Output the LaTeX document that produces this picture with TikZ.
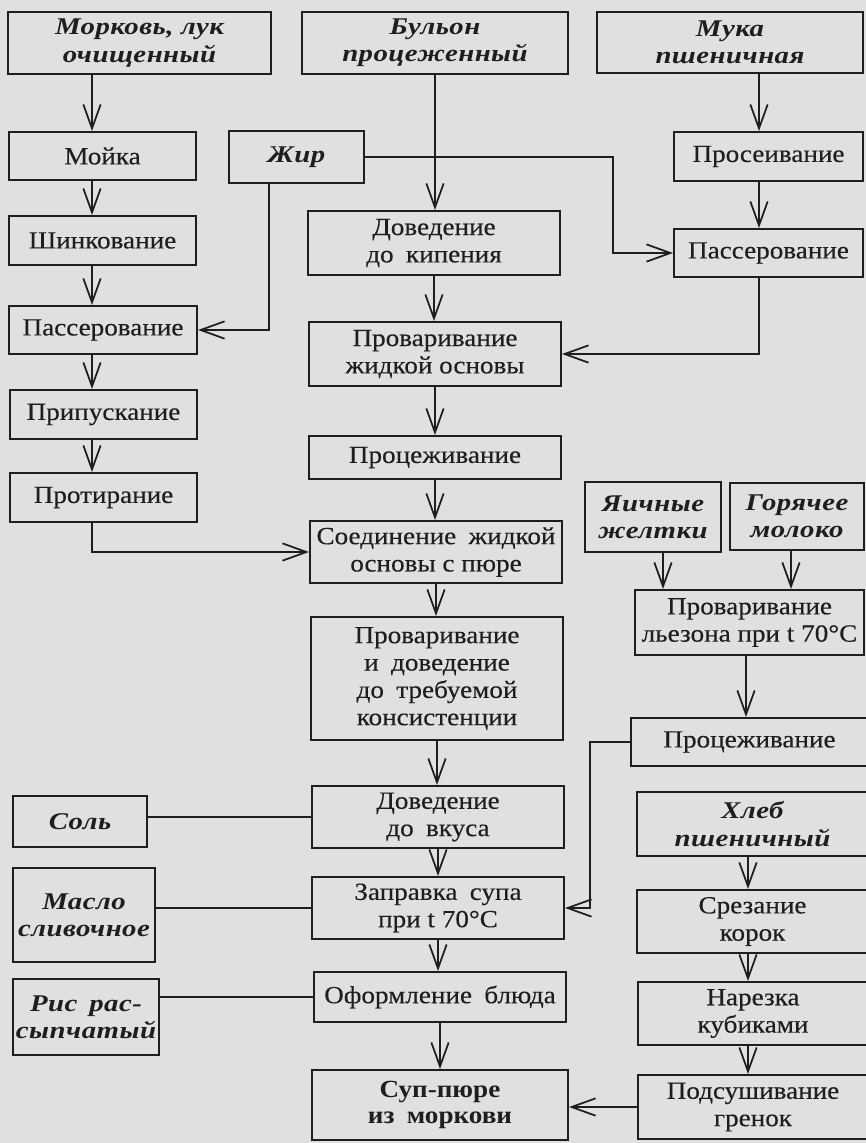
\documentclass[tikz,border=0pt]{standalone}
\usepackage{fontspec}
\setmainfont{Liberation Serif}[FakeStretch=1.1, UprightFeatures={FakeBold=0.3}]
\newfontfamily\ingr{Liberation Serif}[FakeStretch=1.2, LetterSpace=2]
\usetikzlibrary{arrows.meta}
\definecolor{paper}{RGB}{224,224,224}
\definecolor{ink}{RGB}{30,30,30}
\newcommand\ws{\hspace{0.5em}}
% \bx{style}{x1}{y1}{x2}{y2}{name}{text}
\newcommand\bx[7]{\node[#1, minimum width=#4*0.75pt-#2*0.75pt, minimum height=#5*0.75pt-#3*0.75pt]
  (#6) at ({(#2+#4)/2},{(#3+#5)/2}) {#7};}
\begin{document}
\begin{tikzpicture}[x=0.75pt,y=-0.75pt,
  box/.style={draw=ink, line width=1.5pt, inner sep=0pt, align=center, text=ink,
    font=\fontsize{18.5}{20.5}\selectfont},
  ing/.style={box, font=\ingr\bfseries\itshape\fontsize{18}{20.5}\selectfont},
  fin/.style={box, font=\bfseries\fontsize{18.5}{19.5}\selectfont},
  arr/.style={draw=ink, line width=1.5pt, -{Straight Barb[length=18pt,width=13pt,line width=1.3pt]}},
  ln/.style={draw=ink, line width=1.5pt}]
\fill[paper] (0,0) rectangle (866,1143);
\useasboundingbox (0,0) rectangle (866,1143);

% left column
\bx{ing}{8}{12}{271}{74}{mork}{Морковь, лук\\очищенный}
\bx{box}{9}{132}{196}{180}{moyka}{Мойка}
\bx{ing}{229}{131}{364}{183}{zhir}{Жир}
\bx{box}{9}{216}{196}{265}{shink}{Шинкование}
\bx{box}{9}{306}{197}{354}{passL}{Пассерование}
\bx{box}{10}{390}{197}{439}{prip}{Припускание}
\bx{box}{10}{473}{197}{522}{prot}{Протирание}
\bx{ing}{13}{796}{147}{847}{sol}{Соль}
\bx{ing}{13}{868}{155}{962}{maslo}{Масло\\сливочное}
\bx{ing}{13}{979}{159}{1055}{ris}{Рис\ws рас-\\сыпчатый}

% middle column
\bx{ing}{302}{12}{568}{74}{bulon}{Бульон\\процеженный}
\bx{box}{308}{211}{560}{275}{dovKip}{Доведение\\до\ws кипения}
\bx{box}{309}{322}{561}{386}{provZh}{Проваривание\\жидкой основы}
\bx{box}{309}{436}{561}{479}{procM}{Процеживание}
\bx{box}{310}{521}{562}{583}{soed}{Соединение\ws жидкой\\основы с пюре}
\bx{box}{311}{617}{563}{740}{provDov}{Проваривание\\и\ws доведение\\до\ws требуемой\\консистенции}
\bx{box}{312}{786}{564}{848}{dovVk}{Доведение\\до\ws вкуса}
\bx{box}{312}{877}{564}{939}{zapr}{Заправка\ws супа\\при t 70°C}
\bx{box}{314}{972}{566}{1022}{oform}{Оформление\ws блюда}
\bx{fin}{312}{1070}{568}{1140}{sup}{Суп-пюре\\из\ws моркови}

% right column
\bx{ing}{597}{12}{863}{73}{muka}{Мука\\пшеничная}
\bx{box}{674}{132}{863}{181}{pros}{Просеивание}
\bx{box}{674}{229}{863}{277}{passR}{Пассерование}
\bx{ing}{585}{482}{721}{552}{yaich}{Яичные\\желтки}
\bx{ing}{730}{483}{864}{550}{gor}{Горячее\\молоко}
\bx{box}{635}{590}{864}{655}{lez}{Проваривание\\льезона при t 70°C}
\bx{box}{631}{718}{868}{766}{procR}{Процеживание}
\bx{ing}{637}{792}{868}{856}{hleb}{Хлеб\\пшеничный}
\bx{box}{637}{890}{868}{953}{srez}{Срезание\\корок}
\bx{box}{638}{982}{868}{1045}{narez}{Нарезка\\кубиками}
\bx{box}{638}{1075}{868}{1139}{podsush}{Подсушивание\\гренок}

% column coordinates
\coordinate (cL) at (92,0);
\coordinate (cR) at (759,0);
\coordinate (zx) at (269,0);
\coordinate (jx) at (613,0);
\coordinate (px) at (590,0);
\coordinate (yx) at (663,0);
\coordinate (gx) at (791,0);
\coordinate (lx) at (746,0);
\coordinate (hx) at (748,0);

% left chain
\draw[arr] (mork.south -| cL) -- (moyka.north -| cL);
\draw[arr] (moyka.south -| cL) -- (shink.north -| cL);
\draw[arr] (shink.south -| cL) -- (passL.north -| cL);
\draw[arr] (passL.south -| cL) -- (prip.north -| cL);
\draw[arr] (prip.south -| cL) -- (prot.north -| cL);
\draw[arr] (prot.south -| cL) |- (soed.west);

% fat
\draw[arr] (zhir.south -| zx) |- (passL.east);
\draw[arr] (zhir.east) -- (zhir.east -| jx) |- (passR.west);

% middle chain
\draw[arr] (bulon.south) -- (bulon.south |- dovKip.north);
\draw[arr] (dovKip.south) -- (dovKip.south |- provZh.north);
\draw[arr] (provZh.south) -- (provZh.south |- procM.north);
\draw[arr] (procM.south) -- (procM.south |- soed.north);
\draw[arr] (soed.south) -- (soed.south |- provDov.north);
\draw[arr] (provDov.south) -- (provDov.south |- dovVk.north);
\draw[arr] (dovVk.south) -- (dovVk.south |- zapr.north);
\draw[arr] (zapr.south) -- (zapr.south |- oform.north);
\draw[arr] (oform.south) -- (oform.south |- sup.north);

% flour
\draw[arr] (muka.south -| cR) -- (pros.north -| cR);
\draw[arr] (pros.south -| cR) -- (passR.north -| cR);
\draw[arr] (passR.south -| cR) |- (provZh.east);

% liaison
\draw[arr] (yaich.south -| yx) -- (lez.north -| yx);
\draw[arr] (gor.south -| gx) -- (lez.north -| gx);
\draw[arr] (lez.south -| lx) -- (procR.north -| lx);
\draw[arr] (procR.west) -- (procR.west -| px) |- (zapr.east);

% croutons
\draw[arr] (hleb.south -| hx) -- (srez.north -| hx);
\draw[arr] (srez.south -| hx) -- (narez.north -| hx);
\draw[arr] (narez.south -| hx) -- (podsush.north -| hx);
\draw[arr] (podsush.west) -- (podsush.west -| sup.east);

% plain links
\draw[ln] (sol.east |- dovVk.west) -- (dovVk.west);
\draw[ln] (maslo.east |- zapr.west) -- (zapr.west);
\draw[ln] (ris.east |- oform.west) -- (oform.west);
\end{tikzpicture}
\end{document}
